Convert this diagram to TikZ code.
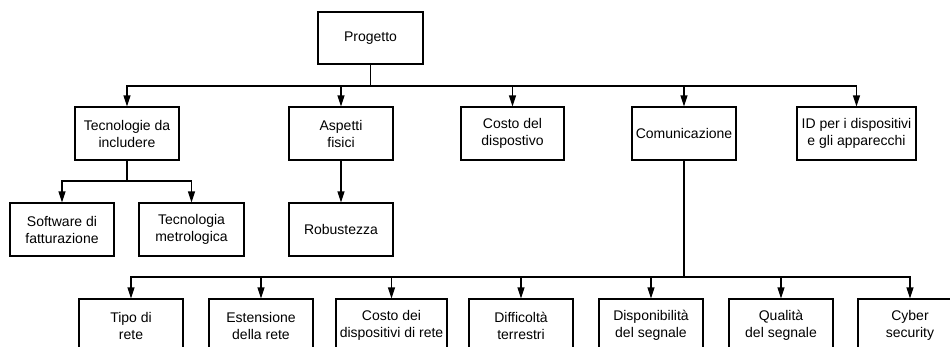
\documentclass[tikz,border=0pt]{standalone}
\usepackage{fontspec}
\setmainfont{Liberation Sans}
\usetikzlibrary{arrows.meta}
\begin{document}
\begin{tikzpicture}[x=1pt,y=-1pt,
  box/.style={draw, line width=1.1pt, inner sep=0pt, align=center,
    minimum width=104pt, minimum height=53pt,
    font=\fontsize{14pt}{17pt}\selectfont},
  arr/.style={line width=1.1pt, -{Triangle[length=11pt,width=7pt]}},
  ln/.style={line width=1.1pt}]
\useasboundingbox (0,0) rectangle (950,346);
\clip (0,0) rectangle (950,346);

% root
\node[box, minimum width=105pt, minimum height=52pt] (prog) at (370.5,38) {Progetto};

% first level
\node[box] (tec) at (127,133.5) {Tecnologie da\\includere};
\node[box] (asp) at (341,133.5) {Aspetti\\fisici};
\node[box, minimum width=103pt] (cos) at (512.5,133.5) {Costo del\\dispostivo};
\node[box] (com) at (684,133.5) {Comunicazione};
\node[box, minimum width=119pt] (id) at (856.5,133.5) {ID per i dispositivi\\e gli apparecchi};

% second level
\node[box] (sw) at (62,229.5) {Software di\\fatturazione};
\node[box, minimum width=105pt] (met) at (191.5,229.5) {Tecnologia\\metrologica};
\node[box] (rob) at (341,229.5) {Robustezza};

% third level (under Comunicazione)
\node[box] (tipo) at (131,325.5) {Tipo di\\rete};
\node[box] (est) at (261,325.5) {Estensione\\della rete};
\node[box, minimum width=111pt] (cdr) at (391.5,325.5) {Costo dei\\dispositivi di rete};
\node[box] (dif) at (521,325.5) {Difficoltà\\terrestri};
\node[box] (dis) at (651,325.5) {Disponibilità\\del segnale};
\node[box] (qua) at (781,325.5) {Qualità\\del segnale};
\node[box] (cyb) at (910,325.5) {Cyber\\security};

% bus junctions
\coordinate (b0) at (370.5,86);
\coordinate (b1) at (127,181);
\coordinate (b2) at (684,277);

% connectors
\foreach \n in {tec,asp,cos,com,id}
  \draw[arr] (prog.south) -- (b0) -| (\n.north);
\foreach \n in {sw,met}
  \draw[arr] (tec.south) -- (b1) -| (\n.north);
\draw[arr] (asp.south) -- (rob.north);
\foreach \n in {tipo,est,cdr,dif,dis,qua,cyb}
  \draw[arr] (com.south) -- (b2) -| (\n.north);
\end{tikzpicture}
\end{document}
